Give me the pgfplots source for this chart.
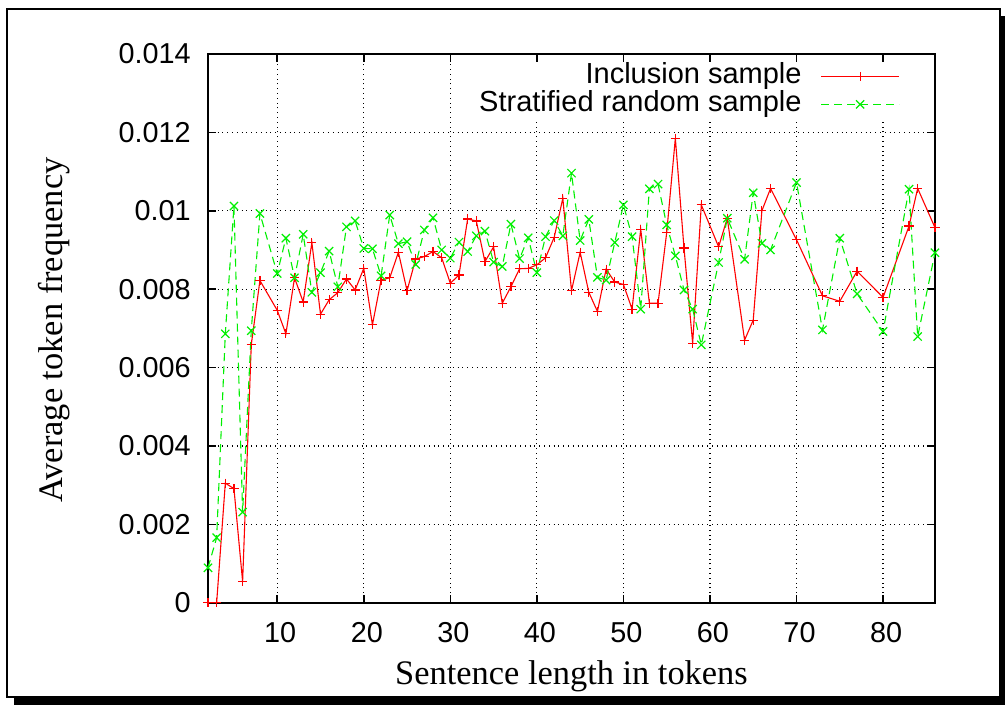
\documentclass[border=0pt]{standalone}
\usepackage{fontspec}
\setmainfont{Liberation Serif}
\setsansfont{Liberation Sans}
\usepackage{pgfplots}
\pgfplotsset{compat=1.18}

\definecolor{gpred}{RGB}{255,0,0}
\definecolor{gpgreen}{RGB}{0,240,0}

\begin{document}
\begin{tikzpicture}
% page size and gnuplot-style shadowed frame
\useasboundingbox (-104pt,-51.15pt) rectangle (398.5pt,301.35pt);
\fill[black] (-97pt,-51.15pt) rectangle (398.5pt,293.35pt);
\filldraw[fill=white, draw=black, line width=1pt] (-100.5pt,-47.15pt) rectangle (396pt,296.85pt);

\begin{axis}[
  at={(0pt,0pt)}, anchor=south west,
  scale only axis,
  width=363.5pt, height=274.35pt,
  xmin=2, xmax=86,
  ymin=0, ymax=0.014,
  clip=false,
  axis line style={line width=1pt},
  xtick={10,20,...,80},
  xticklabels={10,20,30,40,50,60,70,80},
  ytick={0,0.002,0.004,0.006,0.008,0.010,0.012,0.014},
  yticklabels={0,0.002,0.004,0.006,0.008,0.01,0.012,0.014},
  scaled y ticks=false,
  tick align=inside,
  major tick length=4pt,
  tick style={black, line width=0.8pt},
  grid=major,
  major grid style={black, dotted, line width=0.6pt},
  ticklabel style={font=\sffamily\fontsize{14.4}{17}\selectfont},
  yticklabel style={anchor=east, inner sep=0pt, xshift=-8.5pt},
  xticklabel style={anchor=north, inner sep=0pt, yshift=-9.5pt, xshift=1.5pt},
  xlabel={Sentence length in tokens},
  ylabel={Average token frequency},
  label style={font=\fontsize{17.2}{20}\selectfont},
  xlabel style={at={(axis description cs:0.5,-0.135)}, anchor=center},
  ylabel style={at={(axis description cs:-0.212,0.497)}, anchor=center},
  legend cell align=right,
  legend plot pos=right,
  legend style={at={(axis description cs:0.952,0.9854)}, anchor=north east,
    draw=none, fill=white, inner sep=0pt, column sep=9pt, row sep=0pt,
    font=\sffamily\fontsize{14.5}{17}\selectfont,
    nodes={inner sep=0.5pt, text height=10pt, text depth=3pt}},
  legend image code/.code={\draw[mark repeat=2,mark phase=2,#1] plot coordinates {(0pt,0pt) (19.5pt,0pt) (39pt,0pt)};},
]

\addplot[gpred, line width=0.55pt, mark=+, mark size=2.3pt, mark options={solid, line width=0.6pt}] coordinates {
(2,0) (3,0) (4,0.00305) (5,0.00291) (6,0.00054) (7,0.00658) (8,0.00822)
(10,0.00746) (11,0.00686) (12,0.00829) (13,0.00767) (14,0.00919) (15,0.00736)
(16,0.00773) (17,0.00791) (18,0.00826) (19,0.00798) (20,0.00853) (21,0.00709)
(22,0.00823) (23,0.00829) (24,0.00894) (25,0.00796) (26,0.00877) (27,0.00883)
(28,0.00896) (29,0.00880) (30,0.00815) (31,0.00836) (32,0.00979) (33,0.00974)
(34,0.00870) (35,0.00908) (36,0.00764) (37,0.00806) (38,0.00852) (39,0.00853)
(40,0.00862) (41,0.00880) (42,0.00932) (43,0.01032) (44,0.00796) (45,0.00894)
(46,0.00792) (47,0.00743) (48,0.00851) (49,0.00818) (50,0.00812) (51,0.00749)
(52,0.00953) (53,0.00764) (54,0.00764) (55,0.00944) (56,0.01185) (57,0.00905)
(58,0.00662) (59,0.01015) (61,0.00908) (62,0.00981) (64,0.00670) (65,0.00721)
(66,0.01000) (67,0.01057) (70,0.00926) (73,0.00783) (75,0.00769) (77,0.00846)
(80,0.00779) (83,0.00961) (84,0.01057) (86,0.00957)
};
\addlegendentry{Inclusion sample}

\addplot[gpgreen, line width=0.55pt, dash pattern=on 4pt off 2.5pt, mark=x, mark size=2.9pt, mark options={solid, line width=0.6pt}] coordinates {
(2,0.00089) (3,0.00166) (4,0.00686) (5,0.01012) (6,0.00231) (7,0.00694) (8,0.00993)
(10,0.00840) (11,0.00930) (12,0.00829) (13,0.00940) (14,0.00792) (15,0.00842)
(16,0.00897) (17,0.00806) (18,0.00959) (19,0.00974) (20,0.00904) (21,0.00903)
(22,0.00834) (23,0.00989) (24,0.00916) (25,0.00921) (26,0.00863) (27,0.00951)
(28,0.00982) (29,0.00900) (30,0.00879) (31,0.00920) (32,0.00896) (33,0.00936)
(34,0.00948) (35,0.00869) (36,0.00858) (37,0.00966) (38,0.00878) (39,0.00931)
(40,0.00842) (41,0.00934) (42,0.00975) (43,0.00936) (44,0.01096) (45,0.00924)
(46,0.00978) (47,0.00830) (48,0.00823) (49,0.00919) (50,0.01015) (51,0.00934)
(52,0.00749) (53,0.01056) (54,0.01068) (55,0.00964) (56,0.00885) (57,0.00798)
(58,0.00749) (59,0.00658) (61,0.00868) (62,0.00981) (64,0.00876) (65,0.01046)
(66,0.00917) (67,0.00900) (70,0.01072) (73,0.00696) (75,0.00930) (77,0.00788)
(80,0.00692) (83,0.01055) (84,0.00679) (86,0.00893)
};
\addlegendentry{Stratified random sample}
\end{axis}
\end{tikzpicture}
\end{document}
